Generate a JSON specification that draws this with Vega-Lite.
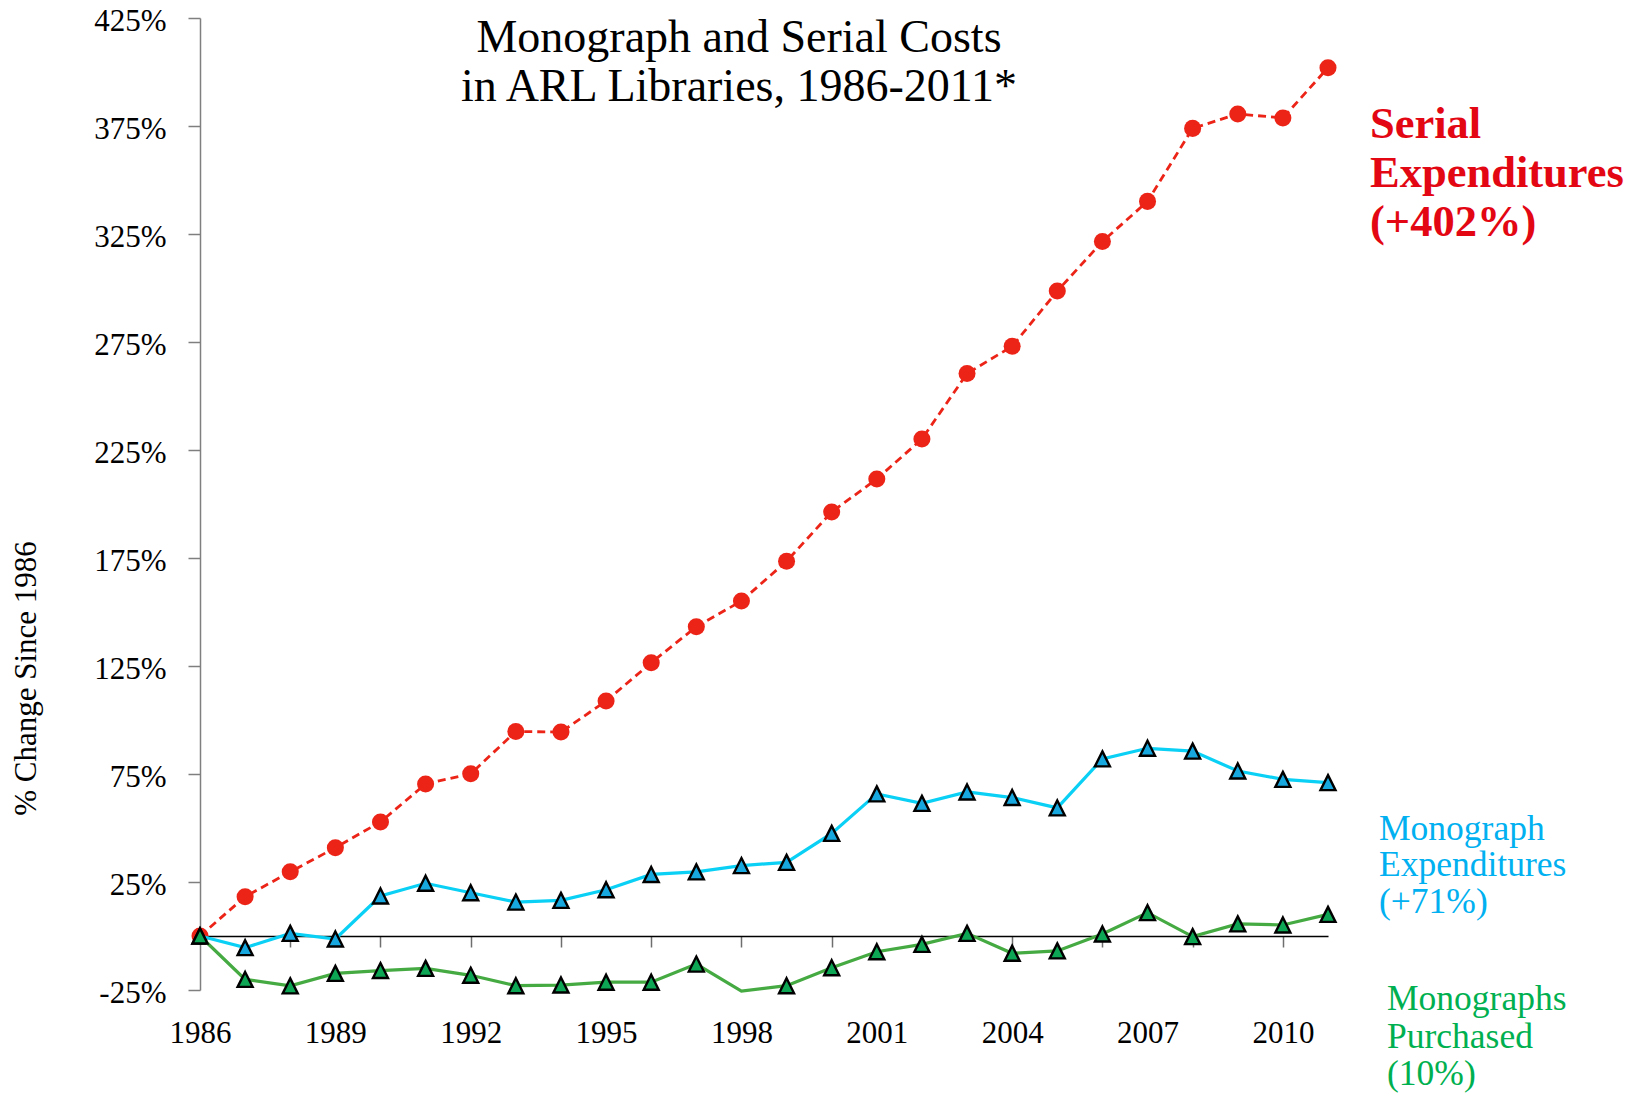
{
  "$schema": "https://vega.github.io/schema/vega-lite/v6.json",
  "width": 1128,
  "height": 972,
  "autosize": {"type": "none"},
  "padding": {"left": 200, "top": 18, "right": 318, "bottom": 104},
  "background": "white",
  "config": {
    "font": "Liberation Serif",
    "view": {"stroke": null},
    "axis": {"grid": false, "labelFont": "Liberation Serif", "titleFont": "Liberation Serif", "labelColor": "#000000", "titleColor": "#000000"}
  },
  "title": {
    "text": ["Monograph and Serial Costs", "in ARL Libraries, 1986-2011*"],
    "font": "Liberation Serif",
    "fontSize": 46,
    "fontWeight": "normal",
    "color": "#000000",
    "lineHeight": 49,
    "anchor": "middle",
    "frame": "group",
    "baseline": "top",
    "offset": 0,
    "dx": -25,
    "dy": 106
  },
  "data": {
    "values": [
      {"year": 1986, "series": "Serial Expenditures", "pct": 0},
      {"year": 1987, "series": "Serial Expenditures", "pct": 18.2},
      {"year": 1988, "series": "Serial Expenditures", "pct": 29.7},
      {"year": 1989, "series": "Serial Expenditures", "pct": 40.9},
      {"year": 1990, "series": "Serial Expenditures", "pct": 52.8},
      {"year": 1991, "series": "Serial Expenditures", "pct": 70.4},
      {"year": 1992, "series": "Serial Expenditures", "pct": 75.1},
      {"year": 1993, "series": "Serial Expenditures", "pct": 94.7},
      {"year": 1994, "series": "Serial Expenditures", "pct": 94.4},
      {"year": 1995, "series": "Serial Expenditures", "pct": 108.8},
      {"year": 1996, "series": "Serial Expenditures", "pct": 126.5},
      {"year": 1997, "series": "Serial Expenditures", "pct": 143.2},
      {"year": 1998, "series": "Serial Expenditures", "pct": 155.1},
      {"year": 1999, "series": "Serial Expenditures", "pct": 173.5},
      {"year": 2000, "series": "Serial Expenditures", "pct": 196.3},
      {"year": 2001, "series": "Serial Expenditures", "pct": 211.6},
      {"year": 2002, "series": "Serial Expenditures", "pct": 230.1},
      {"year": 2003, "series": "Serial Expenditures", "pct": 260.4},
      {"year": 2004, "series": "Serial Expenditures", "pct": 273.0},
      {"year": 2005, "series": "Serial Expenditures", "pct": 298.6},
      {"year": 2006, "series": "Serial Expenditures", "pct": 321.5},
      {"year": 2007, "series": "Serial Expenditures", "pct": 340.1},
      {"year": 2008, "series": "Serial Expenditures", "pct": 373.9},
      {"year": 2009, "series": "Serial Expenditures", "pct": 380.6},
      {"year": 2010, "series": "Serial Expenditures", "pct": 378.7},
      {"year": 2011, "series": "Serial Expenditures", "pct": 402},
      {"year": 1986, "series": "Monograph Expenditures", "pct": 0},
      {"year": 1987, "series": "Monograph Expenditures", "pct": -5.4},
      {"year": 1988, "series": "Monograph Expenditures", "pct": 1.2},
      {"year": 1989, "series": "Monograph Expenditures", "pct": -1.4},
      {"year": 1990, "series": "Monograph Expenditures", "pct": 18.5},
      {"year": 1991, "series": "Monograph Expenditures", "pct": 24.4},
      {"year": 1992, "series": "Monograph Expenditures", "pct": 20.0},
      {"year": 1993, "series": "Monograph Expenditures", "pct": 15.7},
      {"year": 1994, "series": "Monograph Expenditures", "pct": 16.5},
      {"year": 1995, "series": "Monograph Expenditures", "pct": 21.4},
      {"year": 1996, "series": "Monograph Expenditures", "pct": 28.5},
      {"year": 1997, "series": "Monograph Expenditures", "pct": 29.7},
      {"year": 1998, "series": "Monograph Expenditures", "pct": 32.6},
      {"year": 1999, "series": "Monograph Expenditures", "pct": 34.1},
      {"year": 2000, "series": "Monograph Expenditures", "pct": 47.5},
      {"year": 2001, "series": "Monograph Expenditures", "pct": 65.8},
      {"year": 2002, "series": "Monograph Expenditures", "pct": 61.4},
      {"year": 2003, "series": "Monograph Expenditures", "pct": 66.7},
      {"year": 2004, "series": "Monograph Expenditures", "pct": 64.1},
      {"year": 2005, "series": "Monograph Expenditures", "pct": 59.3},
      {"year": 2006, "series": "Monograph Expenditures", "pct": 82.0},
      {"year": 2007, "series": "Monograph Expenditures", "pct": 86.9},
      {"year": 2008, "series": "Monograph Expenditures", "pct": 85.6},
      {"year": 2009, "series": "Monograph Expenditures", "pct": 76.4},
      {"year": 2010, "series": "Monograph Expenditures", "pct": 72.5},
      {"year": 2011, "series": "Monograph Expenditures", "pct": 71},
      {"year": 1986, "series": "Monographs Purchased", "pct": 0},
      {"year": 1987, "series": "Monographs Purchased", "pct": -20.1},
      {"year": 1988, "series": "Monographs Purchased", "pct": -23.1},
      {"year": 1989, "series": "Monographs Purchased", "pct": -17.3},
      {"year": 1990, "series": "Monographs Purchased", "pct": -16.0},
      {"year": 1991, "series": "Monographs Purchased", "pct": -15.0},
      {"year": 1992, "series": "Monographs Purchased", "pct": -18.2},
      {"year": 1993, "series": "Monographs Purchased", "pct": -23.0},
      {"year": 1994, "series": "Monographs Purchased", "pct": -22.7},
      {"year": 1995, "series": "Monographs Purchased", "pct": -21.4},
      {"year": 1996, "series": "Monographs Purchased", "pct": -21.4},
      {"year": 1997, "series": "Monographs Purchased", "pct": -13.0},
      {"year": 1998, "series": "Monographs Purchased", "pct": -25.5},
      {"year": 1999, "series": "Monographs Purchased", "pct": -23.0},
      {"year": 2000, "series": "Monographs Purchased", "pct": -14.7},
      {"year": 2001, "series": "Monographs Purchased", "pct": -7.3},
      {"year": 2002, "series": "Monographs Purchased", "pct": -3.9},
      {"year": 2003, "series": "Monographs Purchased", "pct": 1.2},
      {"year": 2004, "series": "Monographs Purchased", "pct": -8.0},
      {"year": 2005, "series": "Monographs Purchased", "pct": -6.9},
      {"year": 2006, "series": "Monographs Purchased", "pct": 0.9},
      {"year": 2007, "series": "Monographs Purchased", "pct": 10.8},
      {"year": 2008, "series": "Monographs Purchased", "pct": -0.3},
      {"year": 2009, "series": "Monographs Purchased", "pct": 5.6},
      {"year": 2010, "series": "Monographs Purchased", "pct": 5.1},
      {"year": 2011, "series": "Monographs Purchased", "pct": 10}
    ]
  },
  "encoding": {
    "x": {
      "field": "year",
      "type": "quantitative",
      "scale": {"domain": [1986, 2011], "nice": false, "zero": false},
      "axis": {
        "title": null,
        "orient": "bottom",
        "offset": -54,
        "values": [1986, 1987, 1988, 1989, 1990, 1991, 1992, 1993, 1994, 1995, 1996, 1997, 1998, 1999, 2000, 2001, 2002, 2003, 2004, 2005, 2006, 2007, 2008, 2009, 2010, 2011],
        "labelExpr": "(datum.value - 1986) % 3 === 0 ? toString(datum.value) : ''",
        "labelFontSize": 31,
        "labelPadding": 71,
        "labelFlush": false,
        "labelOverlap": false,
        "domainColor": "#000000",
        "domainWidth": 1.5,
        "tickSize": 11,
        "tickWidth": 1.5,
        "tickColor": "#6e6e6e",
        "tickOpacity": {"condition": {"test": "datum.value % 2 === 0 && datum.value > 1986", "value": 1}, "value": 0}
      }
    },
    "y": {
      "field": "pct",
      "type": "quantitative",
      "scale": {"domain": [-25, 425], "nice": false, "zero": false},
      "axis": {
        "title": "% Change Since 1986",
        "titleFontSize": 31,
        "titleFontWeight": "normal",
        "titleAngle": 270,
        "titleAlign": "center",
        "titleBaseline": "middle",
        "titleX": -174,
        "titleY": 660,
        "values": [-25, 25, 75, 125, 175, 225, 275, 325, 375, 425],
        "labelExpr": "datum.value + '%'",
        "labelFontSize": 31,
        "labelPadding": 22,
        "labelOffset": 3,
        "labelFlush": false,
        "labelOverlap": false,
        "domainColor": "#7f7f7f",
        "domainWidth": 1.5,
        "tickColor": "#7f7f7f",
        "tickWidth": 1.5,
        "tickSize": 12
      }
    }
  },
  "layer": [
    {
      "transform": [{"filter": "datum.series === 'Serial Expenditures'"}],
      "mark": {"type": "line", "color": "#ec2418", "strokeWidth": 2.8, "strokeDash": [8, 5]}
    },
    {
      "transform": [{"filter": "datum.series === 'Serial Expenditures'"}],
      "mark": {"type": "point", "shape": "circle", "filled": true, "size": 290, "color": "#ec2418", "opacity": 1}
    },
    {
      "transform": [{"filter": "datum.series === 'Monograph Expenditures'"}],
      "mark": {"type": "line", "color": "#0ad0f5", "strokeWidth": 3.2}
    },
    {
      "transform": [{"filter": "datum.series === 'Monograph Expenditures'"}],
      "mark": {"type": "point", "shape": "M0,-1L1,1L-1,1Z", "size": 225, "filled": true, "fill": "#18a8e0", "stroke": "#000000", "strokeWidth": 2.4, "opacity": 1}
    },
    {
      "transform": [{"filter": "datum.series === 'Monographs Purchased'"}],
      "mark": {"type": "line", "color": "#45aa42", "strokeWidth": 3.2}
    },
    {
      "transform": [{"filter": "datum.series === 'Monographs Purchased' && datum.year !== 1998"}],
      "mark": {"type": "point", "shape": "M0,-1L1,1L-1,1Z", "size": 225, "filled": true, "fill": "#0da655", "stroke": "#000000", "strokeWidth": 2.4, "opacity": 1}
    },
    {
      "transform": [{"filter": "datum.series === 'Serial Expenditures' && datum.year === 2011"}],
      "mark": {"type": "text", "text": ["Serial", "Expenditures", "(+402%)"], "font": "Liberation Serif", "fontSize": 44.5, "fontWeight": "bold", "color": "#e30613", "align": "left", "baseline": "alphabetic", "lineHeight": 49, "dx": 42, "dy": 70}
    },
    {
      "transform": [{"filter": "datum.series === 'Monograph Expenditures' && datum.year === 2011"}],
      "mark": {"type": "text", "text": ["Monograph", "Expenditures", "(+71%)"], "font": "Liberation Serif", "fontSize": 35.5, "color": "#00b0f0", "align": "left", "baseline": "alphabetic", "lineHeight": 36.5, "dx": 51, "dy": 57}
    },
    {
      "transform": [{"filter": "datum.series === 'Monographs Purchased' && datum.year === 2011"}],
      "mark": {"type": "text", "text": ["Monographs", "Purchased", "(10%)"], "font": "Liberation Serif", "fontSize": 35.5, "color": "#00b050", "align": "left", "baseline": "alphabetic", "lineHeight": 37.5, "dx": 59, "dy": 96}
    }
  ]
}
